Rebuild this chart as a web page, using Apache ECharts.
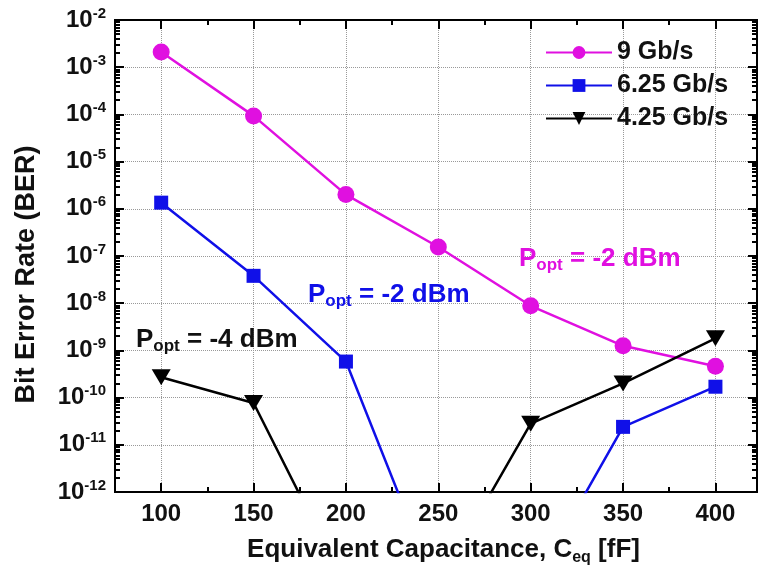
<!DOCTYPE html>
<html>
<head>
<meta charset="utf-8">
<script src="https://cdn.jsdelivr.net/npm/echarts@6/dist/echarts.min.js"></script>
<style>html,body{margin:0;padding:0;background:#fff}#chart{width:760px;height:575px}</style>
</head>
<body>
<div id="chart"></div>
<script>
// data
var capacitance = [100, 150, 200, 250, 300, 350, 400];
var ber9 = [2.1e-3, 9.3e-5, 2.0e-6, 1.55e-7, 8.8e-9, 1.25e-9, 4.6e-10];
var ber625 = [1.35e-6, 3.8e-8, 5.8e-10, 7e-15, 8.5e-15, 2.4e-11, 1.7e-10];
var ber425 = [2.7e-10, 7.7e-11, 1.0e-14, 1.1e-14, 2.8e-11, 2.0e-10, 1.8e-9];
var seriesNames = ['9 Gb/s', '6.25 Gb/s', '4.25 Gb/s'];
var xMajor = [100, 150, 200, 250, 300, 350, 400];
var xMinor = [125, 175, 225, 275, 325, 375];
var yMinor = [];
for (var e = -12; e < -2; e++) {
    for (var k = 2; k <= 9; k++) yMinor.push(e + Math.log10(k));
}

var FONT = 'Liberation Sans, Arial, sans-serif';
var chart = echarts.init(document.getElementById('chart'));

function pts(ys) {
    return capacitance.map(function (c, i) { return [c, ys[i]]; });
}
function frameX(pos, ticks, len, withLabel) {
    return {
        type: 'value', position: pos, min: 75, max: 422.5,
        axisLine: { show: true, onZero: false, lineStyle: { color: '#000', width: 2 } },
        axisTick: { show: true, inside: true, length: len, customValues: ticks, lineStyle: { color: '#000', width: 2 } },
        axisLabel: { show: withLabel, customValues: ticks, margin: 10, color: '#111', fontFamily: FONT, fontWeight: 'bold', fontSize: 24 },
        splitLine: { show: false }
    };
}
function frameY(pos, ticks, len) {
    return {
        type: 'value', position: pos, min: -12, max: -2,
        axisLine: { show: true, onZero: false, lineStyle: { color: '#000', width: 2 } },
        axisTick: { show: true, inside: true, length: len, customValues: ticks, lineStyle: { color: '#000', width: 2 } },
        axisLabel: { show: false },
        splitLine: { show: false }
    };
}
function popt(txt, color, x, y) {
    return {
        type: 'text', left: x, top: y, z: 100,
        style: {
            text: '{a|P}{b|opt}{a|' + txt + '}',
            rich: {
                a: { fontSize: 26, fontWeight: 'bold', fontFamily: FONT, fill: color, lineHeight: 30 },
                b: { fontSize: 17, fontWeight: 'bold', fontFamily: FONT, fill: color, lineHeight: 17, verticalAlign: 'bottom' }
            }
        }
    };
}

var xMain = frameX('bottom', xMajor, 9, true);
xMain.splitLine = { show: true, lineStyle: { type: 'dotted', color: '#999', width: 1 } };
xMain.name = '{t|Equivalent Capacitance, C}{u|eq}{t| [fF]}';
xMain.nameLocation = 'middle';
xMain.nameGap = 42;
xMain.nameTextStyle = {
    padding: [0, 0, 0, 15],
    rich: {
        t: { fontSize: 26, fontWeight: 'bold', fontFamily: FONT, color: '#111', lineHeight: 32 },
        u: { fontSize: 16, fontWeight: 'bold', fontFamily: FONT, color: '#111', lineHeight: 16, verticalAlign: 'bottom' }
    }
};

var yMain = frameY('left', null, 9);
delete yMain.axisTick.customValues;
yMain.interval = 1;
yMain.axisLabel = {
    show: true, margin: 9,
    formatter: function (v) { return '{b|10}{s|' + v + '}'; },
    rich: {
        b: { fontSize: 24, fontWeight: 'bold', fontFamily: FONT, color: '#111', lineHeight: 28 },
        s: { fontSize: 15, fontWeight: 'bold', fontFamily: FONT, color: '#111', lineHeight: 15, verticalAlign: 'top' }
    }
};
yMain.splitLine = { show: true, lineStyle: { type: 'dotted', color: '#999', width: 1 } };
yMain.name = 'Bit Error Rate (BER)';
yMain.nameLocation = 'middle';
yMain.nameGap = 75;
yMain.nameTextStyle = { fontSize: 27, fontWeight: 'bold', fontFamily: FONT, color: '#111', padding: [0, 37, 0, 0] };

var yMirror = frameY('right', null, 9);
delete yMirror.axisTick.customValues;
yMirror.interval = 1;

var option = {
    animation: false,
    backgroundColor: '#fff',
    grid: { left: 115, right: 3, top: 20, bottom: 83, containLabel: false },
    legend: {
        orient: 'vertical', left: 540, top: 35,
        itemWidth: 66, itemHeight: 16, itemGap: 8,
        textStyle: { fontSize: 25, fontWeight: 'bold', fontFamily: FONT, color: '#111' },
        data: seriesNames
    },
    xAxis: [
        xMain,
        frameX('bottom', xMinor, 5, false),
        frameX('top', xMajor, 9, false),
        frameX('top', xMinor, 5, false)
    ],
    yAxis: [
        { type: 'log', logBase: 10, min: 1e-12, max: 1e-2, position: 'left',
          axisLine: { show: false }, axisTick: { show: false }, axisLabel: { show: false }, splitLine: { show: false } },
        yMain,
        frameY('left', yMinor, 5),
        yMirror,
        frameY('right', yMinor, 5)
    ],
    series: [
        { name: seriesNames[0], type: 'line', data: pts(ber9), symbol: 'circle', symbolSize: 17,
          lineStyle: { color: '#e010e0', width: 2.5 }, itemStyle: { color: '#e010e0' } },
        { name: seriesNames[1], type: 'line', data: pts(ber625), symbol: 'rect', symbolSize: 14,
          lineStyle: { color: '#1010e8', width: 2.5 }, itemStyle: { color: '#1010e8' } },
        { name: seriesNames[2], type: 'line', data: pts(ber425), symbol: 'path://M0,0L20,0L10,17Z', symbolSize: [19, 16],
          lineStyle: { color: '#000', width: 2.5 }, itemStyle: { color: '#000' } }
    ],
    graphic: [
        popt(' = -2 dBm', '#e010e0', 519, 246),
        popt(' = -2 dBm', '#1010e8', 308, 282),
        popt(' = -4 dBm', '#111', 136, 327)
    ]
};
chart.setOption(option);
</script>
</body>
</html>
